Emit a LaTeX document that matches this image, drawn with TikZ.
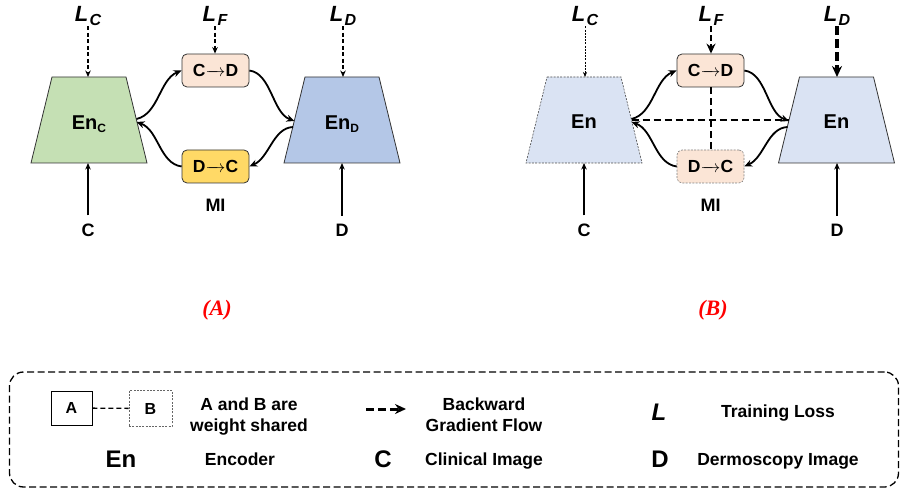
\documentclass[tikz,border=0pt]{standalone}
\usepackage{fontspec}
\setmainfont{Liberation Sans}
\newfontfamily\serifit{Liberation Serif}
\usetikzlibrary{arrows.meta,calc}
\definecolor{encgreen}{HTML}{C5E0B4}
\definecolor{encblue}{HTML}{B4C7E7}
\definecolor{enclight}{HTML}{DAE3F3}
\definecolor{peach}{HTML}{FBE5D6}
\definecolor{gold}{HTML}{FFD966}
\definecolor{redlbl}{HTML}{FF0000}
\newcommand\lossT[1]{L\hspace{1.5pt}\raisebox{-4pt}{\fontsize{16}{16}\selectfont #1}}
\newcommand\subT[1]{\raisebox{-3pt}{\fontsize{12}{12}\selectfont #1}}
\newcommand\arr{\makebox[20pt]{\rightarrowfill}}
\begin{document}
\begin{tikzpicture}[x=1pt,y=-1pt,
  enctrap/.pic={
    \path[pic actions] (-37,-43) -- (37,-43) -- (58,43) -- (-58,43) -- cycle;
    \coordinate (-rs) at (47.5,0);
    \coordinate (-ls) at (-47.5,0);
    \coordinate (-top) at (0,-43);
    \coordinate (-bot) at (0,43);
  },
  enclbl/.style={inner sep=0pt, font=\fontsize{20}{20}\selectfont\bfseries},
  mapbox/.style={rounded corners=5pt, draw=black!80, line width=0.8pt,
    minimum width=67pt, minimum height=33pt, inner sep=0pt,
    font=\fontsize{17.5}{17.5}\selectfont\bfseries},
  lbl/.style={inner sep=0pt, font=\fontsize{18}{18}\selectfont\bfseries},
  loss/.style={inner sep=0pt, font=\fontsize{22}{22}\selectfont\bfseries\itshape},
  flow/.style={-{Stealth[length=8pt,width=7pt]}, line width=1.8pt},
  inflow/.style={-{Stealth[length=6.5pt,width=5.5pt]}, line width=1.6pt},
  gradA/.style={-{Stealth[length=6.5pt,width=5.5pt]}, line width=1.5pt, dash pattern=on 4pt off 2.5pt},
  share/.style={line width=2pt, dash pattern=on 7pt off 4pt},
  legtxt/.style={inner sep=0pt, align=center, font=\fontsize{17.5}{21.7}\selectfont\bfseries},
  bigsym/.style={inner sep=0pt, font=\fontsize{24}{24}\selectfont\bfseries},
  panel/.style={inner sep=0pt, text=redlbl, font=\serifit\fontsize{22}{22}\selectfont\bfseries\itshape}
]
\useasboundingbox (0,0) rectangle (902,489);

% ---------------- Panel A ----------------
\pic[draw=black!80, line width=0.8pt, fill=encgreen] (EnC) at (89,120) {enctrap};
\pic[draw=black!80, line width=0.8pt, fill=encblue] (EnD) at (342,120) {enctrap};
\node[enclbl] (EnCt) at (89,124) {En\subT{C}};
\node[enclbl] (EnDt) at (342,124) {En\subT{D}};
\node[mapbox, fill=peach] (CD) at (215.5,70.5) {C\arr D};
\node[mapbox, fill=gold] (DC) at (215.5,166.5) {D\arr C};
\node[lbl] (MI) at (215.5,205) {MI};
\node[lbl] (Cin) at (88,230) {C};
\node[lbl] (Din) at (342,230) {D};
\node[loss, anchor=base] (LC) at (88,22) {\lossT{C}};
\node[loss, anchor=base] (LF) at (215,22) {\lossT{F}};
\node[loss, anchor=base] (LD) at (343,22) {\lossT{D}};

\draw[gradA] (LC.south) -- (LC.south |- EnC-top);
\draw[gradA] (LF.south) -- (LF.south |- CD.north);
\draw[gradA] (LD.south) -- (LD.south |- EnD-top);
\draw[inflow] ([yshift=8pt]Cin.north) -- (Cin.north |- EnC-bot);
\draw[inflow] ([yshift=8pt]Din.north) -- (Din.north |- EnD-bot);

\draw[flow] ($(EnC-rs)+(0,-1)$) .. controls +(22,-5) and +(-22,9) .. (CD.west);
\draw[flow] (CD.east) .. controls +(22,3) and +(-22,-8) .. ($(EnD-ls)+(0,1)$);
\draw[flow] ($(EnD-ls)+(-1.5,7)$) .. controls +(-20,1) and +(20,-9) .. (DC.east);
\draw[flow] (DC.west) .. controls +(-22,-3) and +(22,8) .. ($(EnC-rs)+(0,2)$);

\node[panel] (labA) at (217,310) {(A)};

% ---------------- Panel B ----------------
\pic[draw=black!70, line width=0.6pt, dash pattern=on 2pt off 1.3pt, fill=enclight] (EnL) at (584,120) {enctrap};
\pic[draw=black!80, line width=0.8pt, fill=enclight] (EnR) at (836.5,120) {enctrap};
\node[enclbl] (EnLt) at (584,122) {En};
\node[enclbl] (EnRt) at (836.5,122) {En};
\node[mapbox, fill=peach] (CD2) at (710.5,70.5) {C\arr D};
\node[mapbox, fill=peach, draw=black!50, line width=0.6pt, dash pattern=on 2pt off 1.3pt] (DC2) at (710.5,166.5) {D\arr C};
\node[lbl] (MI2) at (710.5,205) {MI};
\node[lbl] (Cin2) at (584,230) {C};
\node[lbl] (Din2) at (837,230) {D};
\node[loss, anchor=base] (LC2) at (585,22) {\lossT{C}};
\node[loss, anchor=base] (LF2) at (711,22) {\lossT{F}};
\node[loss, anchor=base] (LD2) at (837,22) {\lossT{D}};

\draw[-{Stealth[length=5pt,width=4pt]}, line width=0.6pt, dash pattern=on 2pt off 1.2pt] (LC2.south) -- (LC2.south |- EnL-top);
\draw[-{Stealth[length=10pt,width=9pt]}, line width=2.6pt, dash pattern=on 6pt off 3pt] (LF2.south) -- (LF2.south |- CD2.north);
\draw[-{Stealth[length=11pt,width=10pt]}, line width=3.2pt, dash pattern=on 9pt off 4pt] (LD2.south) -- (LD2.south |- EnR-top);
\draw[inflow] ([yshift=8pt]Cin2.north) -- (Cin2.north |- EnL-bot);
\draw[inflow] ([yshift=8pt]Din2.north) -- (Din2.north |- EnR-bot);

\draw[share] (EnL-rs) -- (EnR-ls);
\draw[share] (CD2.south) -- (DC2.north);

\draw[flow] ($(EnL-rs)+(0,-1)$) .. controls +(22,-5) and +(-22,9) .. (CD2.west);
\draw[flow] (CD2.east) .. controls +(22,3) and +(-22,-8) .. ($(EnR-ls)+(0,1)$);
\draw[flow] ($(EnR-ls)+(-1.5,7)$) .. controls +(-20,1) and +(20,-9) .. (DC2.east);
\draw[flow] (DC2.west) .. controls +(-22,-3) and +(22,8) .. ($(EnL-rs)+(0,2)$);

\node[panel] (labB) at (713,310) {(B)};

% ---------------- Legend ----------------
\node[draw, line width=1.3pt, dash pattern=on 7pt off 3.5pt, rounded corners=14pt,
  minimum width=889pt, minimum height=115pt] (legend) at (454,429.5) {};
\node[draw, line width=0.8pt, minimum width=41pt, minimum height=34pt, inner sep=0pt,
  font=\fontsize{16}{16}\selectfont\bfseries] (LA) at (71.5,408) {A};
\node[draw=black!60, line width=0.7pt, dash pattern=on 2pt off 1.3pt, minimum width=43pt, minimum height=36pt, inner sep=0pt,
  font=\fontsize{16}{16}\selectfont\bfseries] (LB) at (150.5,408.5) {B};
\draw[line width=1.3pt, dash pattern=on 5pt off 3pt] (LA) -- (LB);
\node[legtxt, anchor=base] (tshare) at (249,431.7) {A and B are\\weight shared};

\coordinate (ga1) at (366,409);
\coordinate (ga2) at (406,409);
\draw[line width=3pt, dash pattern=on 8pt off 4pt, -{Stealth[length=11pt,width=10pt]}] (ga1) -- (ga2);
\node[legtxt, anchor=base] (tgrad) at (484,431.7) {Backward\\Gradient Flow};

\node[bigsym, font=\fontsize{24}{24}\selectfont\bfseries\itshape, anchor=base] (symL) at (659,420) {L};
\node[legtxt, anchor=base] (tloss) at (778,417) {Training Loss};

\node[bigsym, anchor=base] (symEn) at (121,467) {En};
\node[legtxt, anchor=base] (tenc) at (240,465) {Encoder};
\node[bigsym, anchor=base] (symC) at (383,467) {C};
\node[legtxt, anchor=base] (tclin) at (484,465) {Clinical Image};
\node[bigsym, anchor=base] (symD) at (660,467) {D};
\node[legtxt, anchor=base] (tderm) at (778,465) {Dermoscopy Image};
\end{tikzpicture}
\end{document}
